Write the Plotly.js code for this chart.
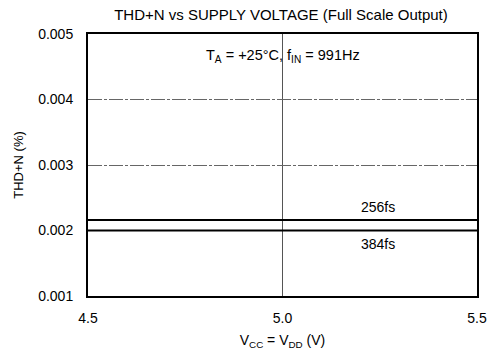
<!DOCTYPE html>
<html><head><meta charset="utf-8">
<script src="https://cdn.plot.ly/plotly-3.0.1.min.js"></script>
<style>html,body{margin:0;padding:0;background:#fff}#chart{width:500px;height:352px}</style>
</head><body><div id="chart"></div>
<script>
const supplyVoltage = [4.5, 5.5];
const thd256fs = [0.00216, 0.00216];
const thd384fs = [0.00200, 0.00200];
const seriesNames = ['256fs', '384fs'];
const xTicks = [4.5, 5.0, 5.5];
const xTickText = ['4.5', '5.0', '5.5'];
const yTicks = [0.001, 0.002, 0.003, 0.004, 0.005];
const yTickText = ['0.001', '0.002', '0.003', '0.004', '0.005'];

const font = {family: 'Liberation Sans, Arial, sans-serif', color: '#000'};
const traces = [
  {x: supplyVoltage, y: thd256fs, name: seriesNames[0], mode: 'lines', line: {color: '#000', width: 2}},
  {x: supplyVoltage, y: thd384fs, name: seriesNames[1], mode: 'lines', line: {color: '#000', width: 2}}
];
const layout = {
  width: 500, height: 352,
  margin: {l: 88, r: 23, t: 34, b: 56},
  paper_bgcolor: '#fff', plot_bgcolor: '#fff',
  showlegend: false,
  font: Object.assign({size: 13}, font),
  title: {text: 'THD+N vs SUPPLY VOLTAGE (Full Scale Output)', font: Object.assign({size: 15}, font), x: 0.562, xanchor: 'center', y: 0.957, yanchor: 'middle'},
  xaxis: {
    range: [4.5, 5.5], tickvals: xTicks, ticktext: xTickText,
    showgrid: true, gridcolor: '#555', gridwidth: 1,
    showline: true, mirror: true, linecolor: '#000', linewidth: 2,
    ticks: '', zeroline: false, tickfont: Object.assign({size: 14}, font),
    ticklabelstandoff: 8,
    title: {text: 'V<sub>CC</sub> = V<sub>DD</sub> (V)', font: Object.assign({size: 14}, font), standoff: 10}
  },
  yaxis: {
    range: [0.001, 0.005], tickvals: yTicks, ticktext: yTickText,
    showgrid: true, gridcolor: '#666', gridwidth: 1, griddash: '14px,2px,3px,2px',
    showline: true, mirror: true, linecolor: '#000', linewidth: 2,
    ticks: '', zeroline: false, tickfont: Object.assign({size: 14}, font),
    ticklabelstandoff: 10,
    title: {text: 'THD+N (%)', font: Object.assign({size: 13}, font), standoff: 12}
  },
  annotations: [
    {x: 5.0, y: 0.00466, xref: 'x', yref: 'y', text: 'T<sub>A</sub> = +25°C, f<sub>IN</sub> = 991Hz', showarrow: false, font: Object.assign({size: 14.5}, font)},
    {x: 5.245, y: thd256fs[1], xref: 'x', yref: 'y', yshift: 13, text: seriesNames[0], showarrow: false, font: Object.assign({size: 14}, font)},
    {x: 5.245, y: thd384fs[1], xref: 'x', yref: 'y', yshift: -13, text: seriesNames[1], showarrow: false, font: Object.assign({size: 14}, font)}
  ]
};
Plotly.newPlot('chart', traces, layout, {displayModeBar: false, staticPlot: true});
</script></body></html>
